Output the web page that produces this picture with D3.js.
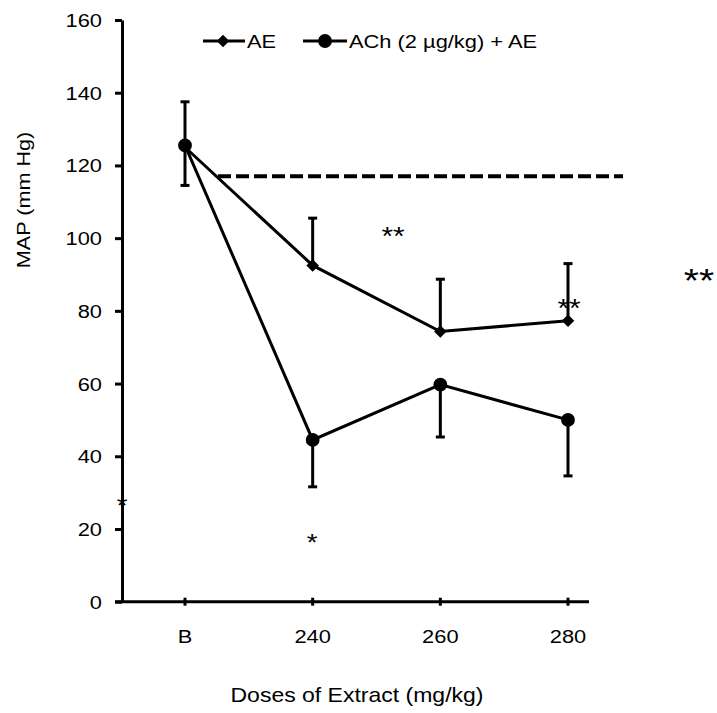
<!DOCTYPE html>
<html>
<head>
<meta charset="utf-8">
<script src="https://cdn.jsdelivr.net/npm/d3@7"></script>
<style>
  body { margin: 0; background: #fff; }
  svg { display: block; }
  text { font-family: "Liberation Sans", Arial, sans-serif; fill: #000; }
</style>
</head>
<body>
<div id="chart"></div>
<script>
// data
var doses = ["B", "240", "260", "280"];
var aeMean = [125, 92.5, 74.3, 77.3];
var aeSd = [12.5, 13, 14.4, 15.7];
var achMean = [125.5, 44.5, 59.7, 50];
var achSd = [11, 12.9, 14.4, 15.4];
var yTicks = [0, 20, 40, 60, 80, 100, 120, 140, 160];
var refLevel = 117;

var W = 717, H = 713;
var sx = 1.15; // glyphs in the picture are wider than Arial

var svg = d3.select("#chart").append("svg")
    .attr("width", W)
    .attr("height", H);

var x = d3.scalePoint().domain(doses).range([185, 568]);
var y = d3.scaleLinear().domain([0, 160]).range([601.7, 20]);

function label(g, tx, ty, str, size, anchor){
    return g.append("text")
        .attr("transform", "translate(" + tx + "," + ty + ") scale(" + sx + ",1)")
        .attr("text-anchor", anchor || "middle")
        .style("font-size", size + "px")
        .text(str);
}

/**************** axes ****************/
var yAxis = svg.append("g")
    .attr("transform", "translate(122,0)")
    .call(d3.axisLeft(y).tickValues(yTicks).tickSize(7).tickSizeOuter(0).tickFormat(""));
yAxis.select(".domain").attr("stroke", "#000").attr("stroke-width", 3);
yAxis.selectAll(".tick line").attr("stroke", "#000").attr("stroke-width", 3);

yTicks.forEach(function(v){
    label(svg, 102, y(v) + 7, v, 19, "end");
});

svg.append("line")
    .attr("x1", 115).attr("x2", 589)
    .attr("y1", y(0)).attr("y2", y(0))
    .attr("stroke", "#000").attr("stroke-width", 3);

svg.selectAll(".xtick").data(doses).enter().append("line")
    .attr("class", "xtick")
    .attr("x1", function(d){ return x(d); }).attr("x2", function(d){ return x(d); })
    .attr("y1", y(0) - 4).attr("y2", y(0) + 4)
    .attr("stroke", "#000").attr("stroke-width", 3);

doses.forEach(function(d){
    label(svg, x(d), 643, d, 19);
});

label(svg, 357, 702, "Doses of Extract (mg/kg)", 20);

svg.append("text")
    .attr("transform", "translate(30,200) rotate(-90) scale(1.2,1)")
    .attr("text-anchor", "middle")
    .style("font-size", "18px")
    .text("MAP (mm  Hg)");

/**************** reference dashed line ****************/
svg.append("line")
    .attr("x1", 218).attr("x2", 623)
    .attr("y1", y(refLevel)).attr("y2", y(refLevel))
    .attr("stroke", "#000").attr("stroke-width", 4)
    .attr("stroke-dasharray", "13,5");

/**************** series ****************/
var line = d3.line()
    .x(function(d){ return x(d.dose); })
    .y(function(d){ return y(d.v); });

function series(mean, sd, dir, marker){
    var pts = doses.map(function(d, i){ return {dose: d, v: mean[i], e: sd[i]}; });
    var g = svg.append("g");

    g.selectAll(".err").data(pts).enter().append("line")
        .attr("x1", function(d){ return x(d.dose); }).attr("x2", function(d){ return x(d.dose); })
        .attr("y1", function(d){ return y(d.v); })
        .attr("y2", function(d){ return y(d.v + dir*d.e); })
        .attr("stroke", "#000").attr("stroke-width", 3);
    g.selectAll(".cap").data(pts).enter().append("line")
        .attr("x1", function(d){ return x(d.dose) - 4.5; }).attr("x2", function(d){ return x(d.dose) + 4.5; })
        .attr("y1", function(d){ return y(d.v + dir*d.e); })
        .attr("y2", function(d){ return y(d.v + dir*d.e); })
        .attr("stroke", "#000").attr("stroke-width", 3);

    g.append("path").datum(pts)
        .attr("d", line)
        .attr("fill", "none").attr("stroke", "#000").attr("stroke-width", 3);

    g.selectAll(".mk").data(pts).enter().append("path")
        .attr("transform", function(d){ return "translate(" + x(d.dose) + "," + y(d.v) + ")"; })
        .attr("d", marker)
        .attr("fill", "#000");
}

var diamond = d3.symbol().type(d3.symbolDiamond2).size(100)();
var circle = d3.symbol().type(d3.symbolCircle).size(150)();

series(achMean, achSd, -1, circle);
series(aeMean, aeSd, 1, diamond);

/**************** legend ****************/
var leg = svg.append("g");
leg.append("line").attr("x1", 203).attr("x2", 245).attr("y1", 41).attr("y2", 41)
    .attr("stroke", "#000").attr("stroke-width", 3);
leg.append("path").attr("transform", "translate(223,41)").attr("d", diamond).attr("fill", "#000");
label(leg, 247, 48, "AE", 19, "start");

leg.append("line").attr("x1", 303).attr("x2", 347).attr("y1", 41).attr("y2", 41)
    .attr("stroke", "#000").attr("stroke-width", 3);
leg.append("path").attr("transform", "translate(325,41)").attr("d", circle).attr("fill", "#000");
label(leg, 349, 48, "ACh (2 µg/kg) + AE", 19, "start");

/**************** significance marks ****************/
label(svg, 393, 245, "**", 26);
label(svg, 569, 317, "**", 26);
label(svg, 699, 292, "**", 34);
label(svg, 312, 551, "*", 24);
label(svg, 122, 514, "*", 24);
</script>
</body>
</html>
